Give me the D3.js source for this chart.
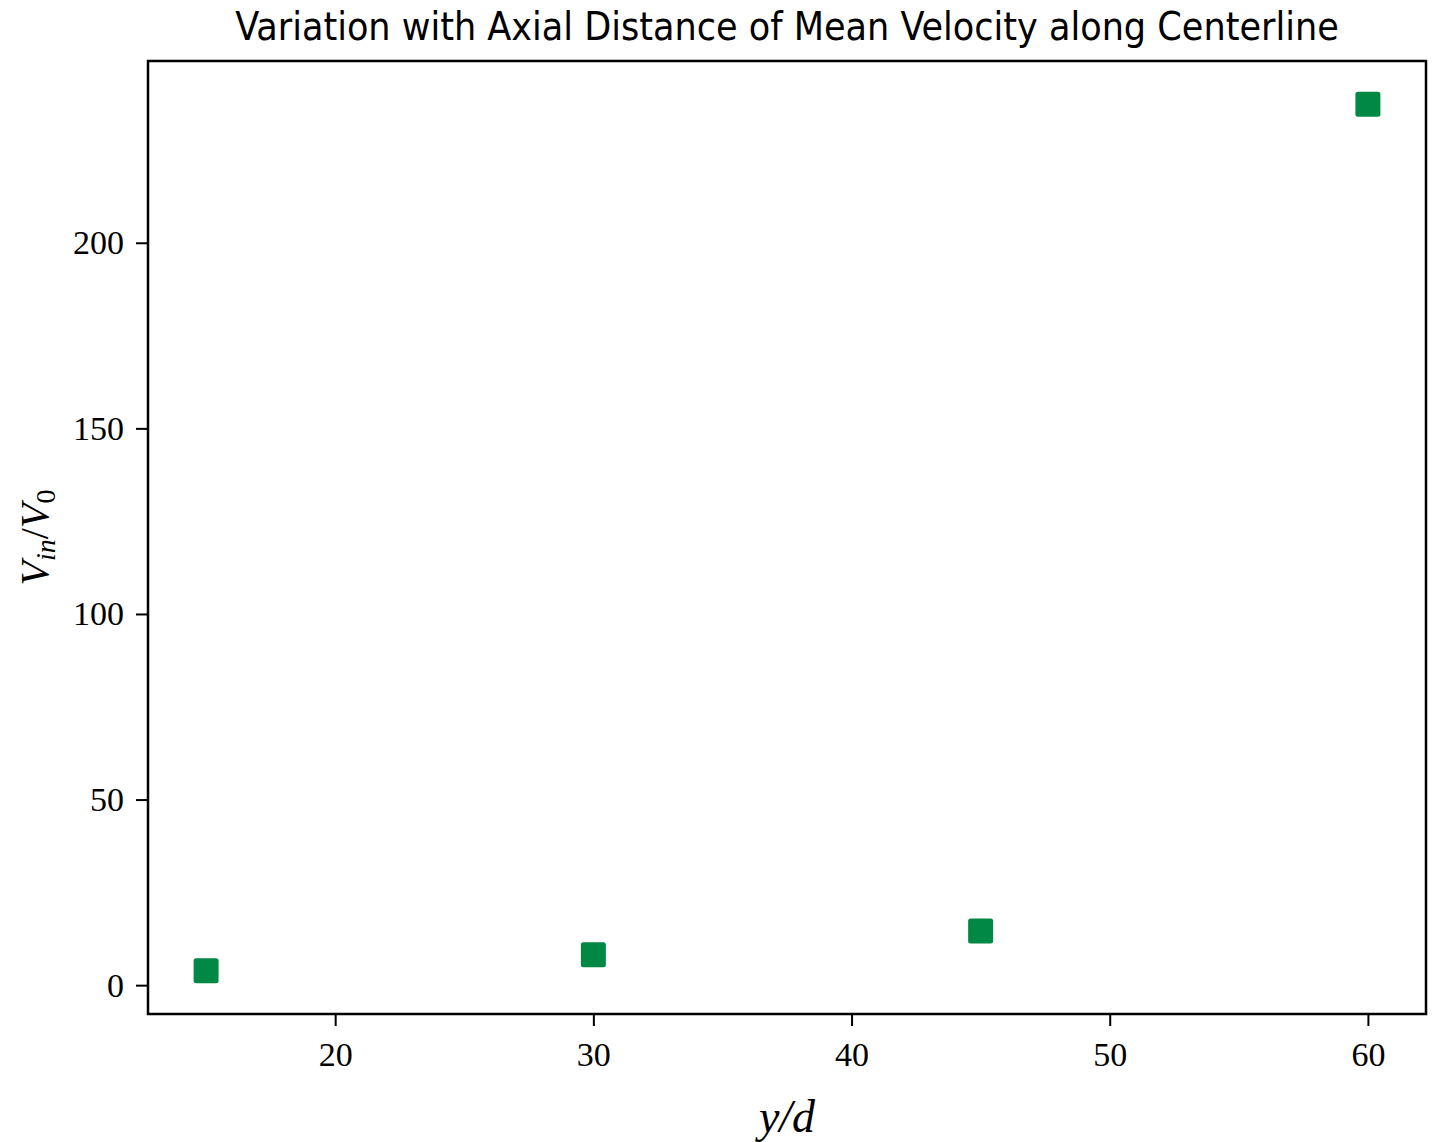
<!DOCTYPE html>
<html lang="en">
<head>
  <meta charset="UTF-8">
  <title>Mean Velocity along Centerline</title>
  <style>
    body { margin: 0; background: #fff; }
    .axis text { font-family: "Liberation Serif", serif; font-size: 34px; fill: #000; }
    .axis path, .axis line { stroke: #000; stroke-width: 2; }
  </style>
  <script src="https://d3js.org/d3.v7.min.js"></script>
</head>
<body>
  <svg id="chart" width="1435" height="1142"></svg>
  <script>
    // data
    const yOverD = [15, 30, 45, 60];
    const velRatio = [3.9, 8.2, 14.6, 237.3];
    const xTicks = [20, 30, 40, 50, 60];
    const yTicks = [0, 50, 100, 150, 200];

    const svg = d3.select("svg#chart");
    const margins = { top: 61, right: 9, bottom: 128, left: 148 };
    const width = +svg.attr("width");
    const height = +svg.attr("height");
    const chartWidth = width - margins.left - margins.right;
    const chartHeight = height - margins.top - margins.bottom;

    const chartArea = svg.append("g")
      .attr("transform", `translate(${margins.left},${margins.top})`);

    // matplotlib-like 5% padding
    const xPad = (d3.max(yOverD) - d3.min(yOverD)) * 0.05;
    const yPad = (d3.max(velRatio) - d3.min(velRatio)) * 0.05;
    const xScale = d3.scaleLinear()
      .domain([d3.min(yOverD) - xPad, d3.max(yOverD) + xPad])
      .range([0, chartWidth]);
    const yScale = d3.scaleLinear()
      .domain([d3.min(velRatio) - yPad, d3.max(velRatio) + yPad])
      .range([chartHeight, 0]);

    chartArea.append("g")
      .attr("class", "axis")
      .attr("transform", `translate(0,${chartHeight})`)
      .call(d3.axisBottom(xScale).tickValues(xTicks).tickSize(12).tickPadding(16).tickSizeOuter(0))
      .call(g => g.select(".domain").remove());

    chartArea.append("g")
      .attr("class", "axis")
      .call(d3.axisLeft(yScale).tickValues(yTicks).tickSize(12).tickPadding(12).tickSizeOuter(0))
      .call(g => g.select(".domain").remove());

    // frame
    chartArea.append("rect")
      .attr("width", chartWidth)
      .attr("height", chartHeight)
      .attr("fill", "none")
      .attr("stroke", "#000")
      .attr("stroke-width", 2.5);

    const pts = yOverD.map((x, i) => ({ x: x, y: velRatio[i] }));
    const size = 25;
    chartArea.selectAll("rect.pt")
      .data(pts)
      .join("rect")
      .attr("class", "pt")
      .attr("x", d => xScale(d.x) - size / 2)
      .attr("y", d => yScale(d.y) - size / 2)
      .attr("width", size)
      .attr("height", size)
      .attr("rx", 2.5)
      .attr("fill", "#008844");

    svg.append("text")
      .attr("x", margins.left + chartWidth / 2)
      .attr("y", 40)
      .attr("text-anchor", "middle")
      .style("font-family", "'DejaVu Sans Condensed', 'DejaVu Sans', sans-serif")
      .style("font-size", "39px")
      .text("Variation with Axial Distance of Mean Velocity along Centerline");

    svg.append("text")
      .attr("x", margins.left + chartWidth / 2)
      .attr("y", 1132)
      .attr("text-anchor", "middle")
      .style("font-family", "'Liberation Serif', serif")
      .style("font-style", "italic")
      .style("font-size", "46px")
      .text("y/d");

    const yl = svg.append("text")
      .attr("transform", `translate(48,${margins.top + chartHeight / 2}) rotate(-90)`)
      .attr("text-anchor", "middle")
      .style("font-family", "'Liberation Serif', serif")
      .style("font-size", "40px");
    yl.append("tspan").style("font-style", "italic").text("V");
    yl.append("tspan").style("font-style", "italic").style("font-size", "28px").attr("dy", 7).text("in");
    yl.append("tspan").attr("dy", -7).text("/");
    yl.append("tspan").style("font-style", "italic").text("V");
    yl.append("tspan").style("font-size", "28px").attr("dy", 7).text("0");
  </script>
</body>
</html>
